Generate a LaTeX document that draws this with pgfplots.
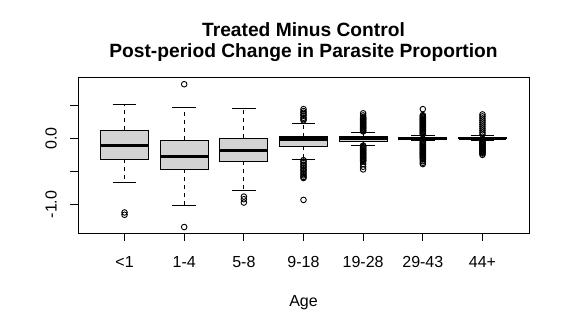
\documentclass[border=0pt]{standalone}
\usepackage{fontspec}
\setmainfont{Liberation Sans}
\usepackage{pgfplots}
\pgfplotsset{compat=1.18}
\usepgfplotslibrary{statistics}
\definecolor{boxgray}{RGB}{211,211,211}

% R style whiskers: dashed stem, solid staple
\pgfplotsset{
  /pgfplots/boxplot/draw/whisker/.code 2 args={%
    \draw[line width=1bp, dash pattern=on 4bp off 4bp]
      (boxplot cs:#1) -- (boxplot cs:#2);
    \draw[line width=1bp]
      (boxplot whisker cs:#2,0) -- (boxplot whisker cs:#2,1);
  },
  rbox/.style={
    black, line width=1bp, mark=o, mark size=2.8bp,
    mark options={line width=0.9bp, solid},
    boxplot/draw direction=y,
    boxplot/box extend=0.8,
    boxplot/whisker extend=0.4,
    boxplot/every box/.style={fill=boxgray, draw=black, line width=1bp},
    boxplot/every median/.style={line width=3.3bp},
  },
}

\begin{document}
\begin{tikzpicture}
\useasboundingbox (-78bp,-98bp) rectangle (492bp,233bp);
\begin{axis}[
    scale only axis,
    width=451bp,
    height=155bp,
    xmin=0.22, xmax=7.78,
    ymin=-1.43, ymax=0.91,
    axis line style={line width=1bp},
    tick style={line width=1bp, black},
    tick align=outside,
    major tick length=8bp,
    xtick pos=left,
    ytick pos=left,
    xtick={1,2,3,4,5,6,7},
    xticklabels={<1,1-4,5-8,9-18,19-28,29-43,44+},
    ytick={-1,-0.5,0,0.5},
    yticklabels={-1.0,,0.0,},
    xticklabel style={font=\fontsize{16bp}{19bp}\selectfont, anchor=base, inner sep=0pt, yshift=-26.7bp},
    yticklabel style={font=\fontsize{16bp}{19bp}\selectfont, xshift=-13.3bp, rotate=90, anchor=base, inner sep=0pt},
    xlabel={Age},
    xlabel style={at={(axis description cs:0.5,0)}, anchor=base, inner sep=0pt, yshift=-73.7bp, font=\fontsize{16bp}{19bp}\selectfont},
    clip=false,
]

% <1
\addplot[rbox, boxplot prepared={draw position=1,
  lower whisker=-0.665, lower quartile=-0.317, median=-0.106,
  upper quartile=0.121, upper whisker=0.514}]
  coordinates {(0,-1.12) (0,-1.155)};

% 1-4
\addplot[rbox, boxplot prepared={draw position=2,
  lower whisker=-1.012, lower quartile=-0.468, median=-0.272,
  upper quartile=-0.03, upper whisker=0.468}]
  coordinates {(0,0.816) (0,-1.34)};

% 5-8
\addplot[rbox, boxplot prepared={draw position=3,
  lower whisker=-0.781, lower quartile=-0.347, median=-0.181,
  upper quartile=0.0, upper whisker=0.447}]
  coordinates {(0,-0.88) (0,-0.92) (0,-0.97)};

% 9-18
\addplot[rbox, boxplot prepared={draw position=4,
  lower whisker=-0.317, lower quartile=-0.12, median=-0.01,
  upper quartile=0.02, upper whisker=0.227}]
  coordinates {
  (0,0.44) (0,0.41) (0,0.385) (0,0.36) (0,0.34) (0,0.31) (0,0.29) (0,0.27)
  (0,-0.33) (0,-0.35) (0,-0.375) (0,-0.40) (0,-0.42) (0,-0.445) (0,-0.47)
  (0,-0.49) (0,-0.515) (0,-0.54) (0,-0.56) (0,-0.585) (0,-0.60) (0,-0.93)
  };

% 19-28
\addplot[rbox, boxplot prepared={draw position=5,
  lower whisker=-0.106, lower quartile=-0.045, median=0.0,
  upper quartile=0.02, upper whisker=0.09}]
  coordinates {
  (0,0.377) (0,0.345) (0,0.32) (0,0.308) (0,0.296) (0,0.284) (0,0.272)
  (0,0.26) (0,0.248) (0,0.236) (0,0.224) (0,0.212) (0,0.2) (0,0.188)
  (0,0.176) (0,0.164) (0,0.152) (0,0.14) (0,0.128) (0,0.116) (0,0.104)
  (0,-0.11) (0,-0.122) (0,-0.134) (0,-0.146) (0,-0.158) (0,-0.17) (0,-0.182)
  (0,-0.194) (0,-0.206) (0,-0.218) (0,-0.23) (0,-0.242) (0,-0.254) (0,-0.266)
  (0,-0.278) (0,-0.29) (0,-0.302) (0,-0.314) (0,-0.326) (0,-0.338) (0,-0.35)
  (0,-0.39) (0,-0.43) (0,-0.47)
  };

% 29-43
\addplot[rbox, boxplot prepared={draw position=6,
  lower whisker=-0.04, lower quartile=-0.012, median=0.0,
  upper quartile=0.012, upper whisker=0.045}]
  coordinates {
  (0,0.44) (0,0.35) (0,0.335) (0,0.323) (0,0.311) (0,0.299) (0,0.287)
  (0,0.275) (0,0.263) (0,0.251) (0,0.239) (0,0.227) (0,0.215) (0,0.203)
  (0,0.191) (0,0.179) (0,0.167) (0,0.155) (0,0.143) (0,0.131) (0,0.119)
  (0,0.107) (0,0.095) (0,0.083) (0,0.071) (0,0.06)
  (0,-0.05) (0,-0.062) (0,-0.074) (0,-0.086) (0,-0.098) (0,-0.11) (0,-0.122)
  (0,-0.134) (0,-0.146) (0,-0.158) (0,-0.17) (0,-0.182) (0,-0.194) (0,-0.206)
  (0,-0.218) (0,-0.23) (0,-0.242) (0,-0.254) (0,-0.266) (0,-0.278) (0,-0.29)
  (0,-0.30) (0,-0.32) (0,-0.345) (0,-0.37) (0,-0.39)
  };

% 44+
\addplot[rbox, boxplot prepared={draw position=7,
  lower whisker=-0.036, lower quartile=-0.01, median=0.0,
  upper quartile=0.012, upper whisker=0.04}]
  coordinates {
  (0,0.36) (0,0.33) (0,0.30) (0,0.27) (0,0.24) (0,0.21) (0,0.18) (0,0.15)
  (0,0.12) (0,0.09) (0,0.06)
  (0,-0.05) (0,-0.062) (0,-0.074) (0,-0.086) (0,-0.098) (0,-0.11) (0,-0.122)
  (0,-0.134) (0,-0.146) (0,-0.158) (0,-0.17) (0,-0.182) (0,-0.194) (0,-0.206)
  (0,-0.218) (0,-0.23) (0,-0.25)
  };

\node[font=\bfseries\fontsize{19.2bp}{23bp}\selectfont, anchor=base, inner sep=0pt, yshift=41.3bp]
  at (axis description cs:0.5,1) {Treated Minus Control};
\node[font=\bfseries\fontsize{19.2bp}{23bp}\selectfont, anchor=base, inner sep=0pt, yshift=20bp]
  at (axis description cs:0.5,1) {Post-period Change in Parasite Proportion};
\end{axis}
\end{tikzpicture}
\end{document}
